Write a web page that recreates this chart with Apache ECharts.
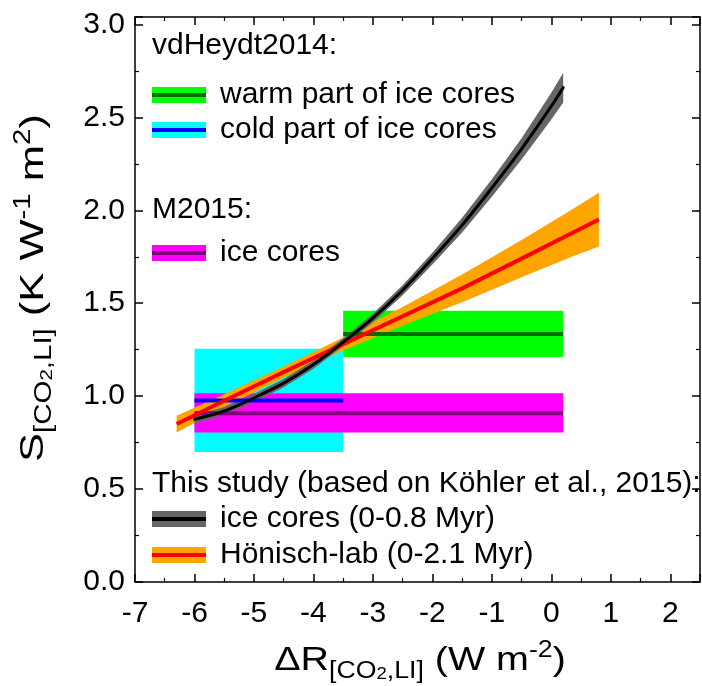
<!DOCTYPE html>
<html><head><meta charset="utf-8">
<script src="https://cdn.jsdelivr.net/npm/echarts@6/dist/echarts.min.js"></script>
<style>html,body{margin:0;padding:0;background:#fff}#c{width:702px;height:686px}</style>
</head><body><div id="c"></div>
<script>
const FONT = 'Liberation Sans';
// axes
const xRange = [-7, 2.5];
const xStep = 1;
const yRange = [0, 3.04];
const yStep = 0.5;
const xTitle = '{n|ΔR}{sub|[CO}{sub2|2}{sub|,LI]}{n| (W m}{sup|-2}{n|)}';
const yTitle = '{n|S}{sub|[CO}{sub2|2}{sub|,LI]}{n| (K W}{sup|-1}{n| m}{sup|2}{n|)}';

// vdHeydt2014 / M2015 boxes: [xStart, xEnd, low, high]
const warmBox = [-3.5, 0.2, 1.21, 1.46];
const warmMid = 1.335;
const coldBox = [-6.0, -3.5, 0.70, 1.255];
const coldMid = 0.977;
const m2015Box = [-6.0, 0.2, 0.805, 1.015];
const m2015Mid = 0.908;

// This study: ice cores (0-0.8 Myr)
const iceX    = [-6, -5.5, -5, -4.5, -4, -3.5, -3, -2.5, -2, -1.5, -1, -0.5, 0, 0.2];
const iceMid  = [0.875, 0.92, 0.99, 1.07, 1.17, 1.29, 1.42, 1.57, 1.74, 1.92, 2.12, 2.33, 2.56, 2.66];
const iceHalf = [0.022, 0.022, 0.022, 0.022, 0.022, 0.022, 0.024, 0.027, 0.032, 0.04, 0.047, 0.057, 0.072, 0.08];

// This study: Hönisch-lab (0-2.1 Myr)
const honX    = [-6.3, -5.5, -4.5, -3.5, -2.5, -1.5, -0.5, 0.3, 0.8];
const honMid  = [0.85, 0.975, 1.13, 1.28, 1.43, 1.58, 1.74, 1.87, 1.95];
const honHalf = [0.045, 0.035, 0.03, 0.035, 0.05, 0.075, 0.10, 0.125, 0.145];

function boxSeries(box, color) {
  return {
    type: 'custom', silent: true,
    encode: { x: [0, 1], y: [2, 3] },
    data: [box],
    renderItem(params, api) {
      const p1 = api.coord([api.value(0), api.value(3)]);
      const p2 = api.coord([api.value(1), api.value(2)]);
      return { type: 'rect', shape: { x: p1[0], y: p1[1], width: p2[0] - p1[0], height: p2[1] - p1[1] }, style: { fill: color } };
    }
  };
}
function midSeries(box, mid, color, w) {
  return {
    type: 'line', silent: true, symbol: 'none',
    data: [[box[0], mid], [box[1], mid]],
    lineStyle: { color: color, width: w }
  };
}
function bandSeries(xs, mid, half, color) {
  return {
    type: 'custom', silent: true,
    encode: { x: 0, y: [1, 2] },
    data: xs.map((x, i) => [x, mid[i] - half[i], mid[i] + half[i]]),
    renderItem(params, api) {
      if (params.dataIndex !== 0) return null;
      const up = xs.map((x, i) => api.coord([x, mid[i] + half[i]]));
      const lo = xs.map((x, i) => api.coord([x, mid[i] - half[i]])).reverse();
      return { type: 'polygon', shape: { points: up.concat(lo) }, style: { fill: color } };
    }
  };
}

const axisLine = { show: true, onZero: false, lineStyle: { color: '#000', width: 1.5 } };
const tickIn = { show: true, inside: true, length: 8, lineStyle: { color: '#000', width: 1.5 } };
const minorIn = { show: true, splitNumber: 2, length: 4, lineStyle: { color: '#000', width: 1.2 } };

const lab = { fontFamily: FONT, fontSize: 30, color: '#000' };
const rich = {
  n: { fontFamily: FONT, fontSize: 34, fill: '#000', lineHeight: 44, verticalAlign: 'middle' },
  sub: { fontFamily: FONT, fontSize: 23, fill: '#000', lineHeight: 24, verticalAlign: 'bottom' },
  sub2: { fontFamily: FONT, fontSize: 16, fill: '#000', lineHeight: 8, verticalAlign: 'bottom' },
  sup: { fontFamily: FONT, fontSize: 23, fill: '#000', lineHeight: 26, verticalAlign: 'top' }
};

const legendItems = [
  { t: 'vdHeydt2014:', y: 46 },
  { t: 'warm part of ice cores', y: 95, band: '#00ff00', line: '#006f00' },
  { t: 'cold part of ice cores', y: 130, band: '#00ffff', line: '#0000ff' },
  { t: 'M2015:', y: 210 },
  { t: 'ice cores', y: 253, band: '#ff00ff', line: '#800080' },
  { t: 'This study (based on Köhler et al., 2015):', y: 484 },
  { t: 'ice cores (0-0.8 Myr)', y: 519, band: '#666666', line: '#000000' },
  { t: 'Hönisch-lab (0-2.1 Myr)', y: 555, band: '#ffa500', line: '#ff0000' }
];
const graphics = [];
const legendFont = '30px ' + FONT;
legendItems.forEach(it => {
  if (it.band) {
    graphics.push({ type: 'rect', shape: { x: 152, y: it.y - 8, width: 54, height: 16 }, style: { fill: it.band }, z: 100 });
    graphics.push({ type: 'rect', shape: { x: 152, y: it.y - 2, width: 54, height: 4 }, style: { fill: it.line }, z: 101 });
    graphics.push({ type: 'text', x: 220, y: it.y, style: { text: it.t, font: legendFont, fill: '#000', verticalAlign: 'middle' }, z: 101 });
  } else {
    graphics.push({ type: 'text', x: 152, y: it.y, style: { text: it.t, font: legendFont, fill: '#000', verticalAlign: 'middle' }, z: 101 });
  }
});
// axis titles
graphics.push({ type: 'text', x: 420, y: 661, scaleX: 1.16, z: 101,
  style: { text: xTitle, rich, align: 'center', verticalAlign: 'middle', fill: '#000' } });
graphics.push({ type: 'text', x: 34, y: 288, rotation: Math.PI / 2, scaleX: 1.28, z: 101,
  style: { text: yTitle, rich, align: 'center', verticalAlign: 'middle', fill: '#000' } });

const chart = echarts.init(document.getElementById('c'), null, { renderer: 'canvas' });
chart.setOption({
  animation: false,
  backgroundColor: '#fff',
  grid: { left: 135, right: 2, top: 17, bottom: 104, containLabel: false, outerBoundsMode: 'none' },
  xAxis: [
    { type: 'value', min: xRange[0], max: xRange[1], interval: xStep, position: 'bottom',
      axisLine, axisTick: tickIn, minorTick: minorIn, splitLine: { show: false },
      axisLabel: Object.assign({ margin: 17, showMaxLabel: false, formatter: v => String(v) }, lab) },
    { type: 'value', min: xRange[0], max: xRange[1], interval: xStep, position: 'top',
      axisLine, axisTick: tickIn, minorTick: minorIn, splitLine: { show: false }, axisLabel: { show: false } }
  ],
  yAxis: [
    { type: 'value', min: yRange[0], max: yRange[1], interval: yStep, position: 'left',
      axisLine, axisTick: tickIn, minorTick: minorIn, splitLine: { show: false },
      axisLabel: Object.assign({ margin: 10, showMaxLabel: false, formatter: v => v.toFixed(1) }, lab) },
    { type: 'value', min: yRange[0], max: yRange[1], interval: yStep, position: 'right',
      axisLine, axisTick: tickIn, minorTick: minorIn, splitLine: { show: false }, axisLabel: { show: false } }
  ],
  graphic: graphics,
  series: [
    boxSeries(coldBox, '#00ffff'),
    boxSeries(m2015Box, '#ff00ff'),
    boxSeries(warmBox, '#00ff00'),
    midSeries(coldBox, coldMid, '#0000ff', 4),
    midSeries(m2015Box, m2015Mid, '#800080', 4),
    midSeries(warmBox, warmMid, '#006f00', 4),
    bandSeries(honX, honMid, honHalf, '#ffa500'),
    { type: 'line', silent: true, symbol: 'none', data: honX.map((x, i) => [x, honMid[i]]), lineStyle: { color: '#ff0000', width: 4 } },
    bandSeries(iceX, iceMid, iceHalf, '#666666'),
    { type: 'line', silent: true, symbol: 'none', smooth: 0.3, data: iceX.map((x, i) => [x, iceMid[i]]), lineStyle: { color: '#000', width: 3, cap: 'round' } }
  ]
});
</script></body></html>
